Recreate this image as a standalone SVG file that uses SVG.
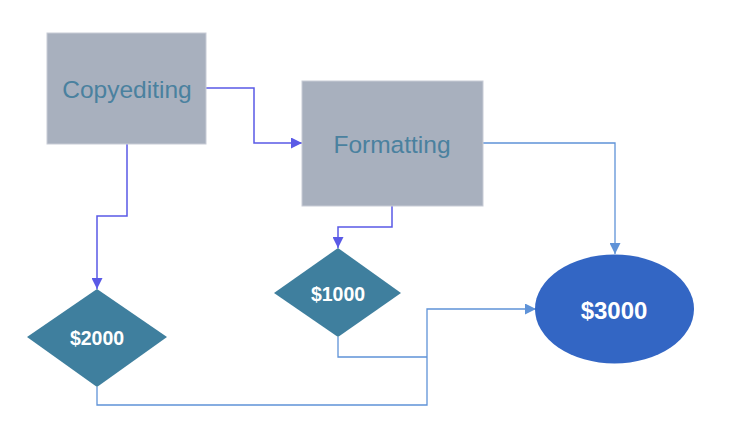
<svg xmlns="http://www.w3.org/2000/svg" width="735" height="440" viewBox="0 0 735 440">
<defs>
<style>
.box{fill:#a8b0be;stroke:#c8ccd6;stroke-width:1}
.btxt{font-family:"Liberation Sans",Arial,sans-serif;font-size:24.5px;fill:#4a819f;text-anchor:middle;dominant-baseline:central}
.dia{fill:#3f7f9e}
.wtxt{font-family:"Liberation Sans",Arial,sans-serif;font-weight:bold;fill:#ffffff;text-anchor:middle;dominant-baseline:central}
.c1{fill:none;stroke:#5a5ae6;stroke-width:1.5}
.c2{fill:none;stroke:#5f93d8;stroke-width:1.3}
</style>
<marker id="a1" viewBox="0 0 10 10" refX="10" refY="5" markerWidth="11" markerHeight="11" markerUnits="userSpaceOnUse" orient="auto"><path d="M0,0 L10,5 L0,10 z" fill="#5a5ae6"/></marker>
<marker id="a2" viewBox="0 0 10 10" refX="10" refY="5" markerWidth="11" markerHeight="11" markerUnits="userSpaceOnUse" orient="auto"><path d="M0,0 L10,5 L0,10 z" fill="#5f93d8"/></marker>
</defs>
<rect width="735" height="440" fill="#ffffff"/>
<g id="connectors">
<polyline class="c1" points="206,88 254,88 254,143 302,143" marker-end="url(#a1)"/>
<polyline class="c1" points="127,144 127,216 97,216 97,289" marker-end="url(#a1)"/>
<polyline class="c1" points="392,206 392,227 338,227 338,248" marker-end="url(#a1)"/>
<polyline class="c2" points="483,143 615,143 615,254" marker-end="url(#a2)"/>
<polyline class="c2" points="97,387 97,405 427,405 427,309 536,309" marker-end="url(#a2)"/>
<polyline class="c2" points="338,337 338,357 427,357"/>
</g>
<g id="copyediting">
<rect class="box" x="47" y="33" width="159" height="111"/>
<text class="btxt" x="127" y="89">Copyediting</text>
</g>
<g id="formatting">
<rect class="box" x="302" y="81" width="181" height="125"/>
<text class="btxt" x="392" y="144">Formatting</text>
</g>
<g id="d2000">
<polygon class="dia" points="97,289 167,337 97,387 27,337"/>
<text class="wtxt" x="97" y="338" font-size="19.5">$2000</text>
</g>
<g id="d1000">
<polygon class="dia" points="338,248 401,293 338,337 274,293"/>
<text class="wtxt" x="338" y="294" font-size="19.5">$1000</text>
</g>
<g id="e3000">
<ellipse cx="614.5" cy="309" rx="79.5" ry="54.5" fill="#3366c4"/>
<text class="wtxt" x="614" y="310" font-size="24">$3000</text>
</g>
</svg>
